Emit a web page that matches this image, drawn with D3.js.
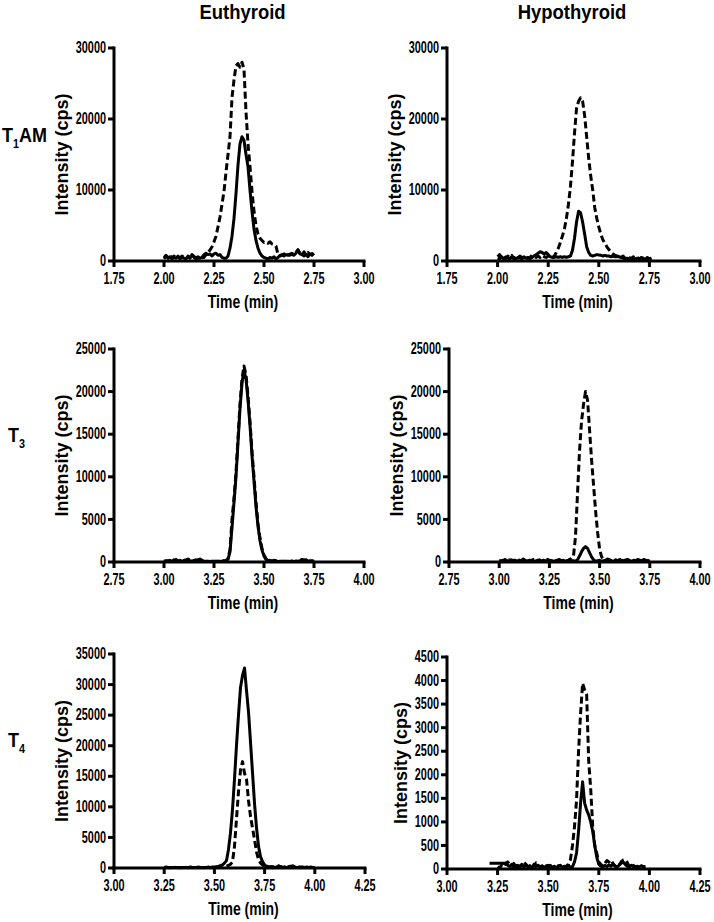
<!DOCTYPE html>
<html>
<head>
<meta charset="utf-8">
<script src="https://cdn.jsdelivr.net/npm/d3@7"></script>
<style>
  html, body { margin: 0; padding: 0; background: #fff; }
  svg text { font-family: "Liberation Sans", Arial, Helvetica, sans-serif; font-weight: bold; fill: #000; }
</style>
</head>
<body>
<svg id="chart" width="714" height="922"></svg>
<script>
// ---------------- DATA ----------------
const columnTitles = ["Euthyroid", "Hypothyroid"];
const rowLabels = [["T", "1", "AM"], ["T", "3", ""], ["T", "4", ""]];
const xAxisTitle = "Time (min)";
const yAxisTitle = "Intensity (cps)";

// x tick values per row
const xTicksRow1 = [1.75, 2.00, 2.25, 2.50, 2.75, 3.00];
const xTicksRow2 = [2.75, 3.00, 3.25, 3.50, 3.75, 4.00];
const xTicksRow3 = [3.00, 3.25, 3.50, 3.75, 4.00, 4.25];
// y tick values per panel
const yTicksT1AM = [0, 10000, 20000, 30000];
const yTicksT3 = [0, 5000, 10000, 15000, 20000, 25000];
const yTicksT4eu = [0, 5000, 10000, 15000, 20000, 25000, 30000, 35000];
const yTicksT4hy = [0, 500, 1000, 1500, 2000, 2500, 3000, 3500, 4000, 4500];

// ---- Euthyroid T1AM ----
const timeEuT1AM = [2.00,2.01,2.02,2.03,2.04,2.05,2.06,2.07,2.08,2.09,2.10,2.11,2.12,2.13,2.14,2.15,2.16,2.17,2.18,2.19,2.20,2.21,2.22,2.23,2.24,2.25,2.26,2.27,2.28,2.29,2.30,2.31,2.32,2.33,2.34,2.35,2.36,2.37,2.38,2.39,2.40,2.41,2.42,2.43,2.44,2.45,2.46,2.47,2.48,2.49,2.50,2.51,2.52,2.53,2.54,2.55,2.56,2.57,2.58,2.59,2.60,2.61,2.62,2.63,2.64,2.65,2.66,2.67,2.68,2.69,2.70,2.71,2.72,2.73,2.74,2.75];
const solidEuT1AM = [300,700,400,600,300,500,400,700,300,500, 400,300,600,400,900,500,300,600,400,500, 900,1100,900,1000,700,1000,1100,800,900,500, 400,400,700,1800,3500,6000,9500,13500,16500,17500, 17000,15000,13300,10000,7000,4500,2900,1800,1100,700, 500,400,300,500,400,600,300,500,800,900, 700,900,800,1000,900,800,1100,1500,1000,900, 700,900,600,1000,800,1100];
const dashEuT1AM = [500,800,500,900,400,700,500,600,400,700, 500,300,700,500,1000,600,500,400,600,500, 500,900,1200,1550,2000,2700,3500,4800,6200,8000, 9800,12500,15000,17500,23000,25500,27500,27800,27300,28000, 27000,21000,16500,13300,9800,7000,5000,3800,3200,2900, 2600,2700,2500,2700,2400,2300,2100,900,700,800, 1000,700,900,800,1100,900,1200,1600,1100,900, 1300,800,1200,900,1000,1300];

// ---- Hypothyroid T1AM ----
const timeHyT1AM = [2.00,2.01,2.02,2.03,2.04,2.05,2.06,2.07,2.08,2.09,2.10,2.11,2.12,2.13,2.14,2.15,2.16,2.17,2.18,2.19,2.20,2.21,2.22,2.23,2.24,2.25,2.26,2.27,2.28,2.29,2.30,2.31,2.32,2.33,2.34,2.35,2.36,2.37,2.38,2.39,2.40,2.41,2.42,2.43,2.44,2.45,2.46,2.47,2.48,2.49,2.50,2.51,2.52,2.53,2.54,2.55,2.56,2.57,2.58,2.59,2.60,2.61,2.62,2.63,2.64,2.65,2.66,2.67,2.68,2.69,2.70,2.71,2.72,2.73,2.74,2.75,2.76];
const solidHyT1AM = [400,300,600,300,500,400,300,600,400,300, 500,400,300,600,400,500,300,500,700,900, 1100,1300,1200,1000,1200,900,600,500,500,600, 500,600,500,600,500,600,700,1500,3200,5500, 7000,6800,5500,3800,2000,1200,800,700,800,900, 850,800,700,800,700,700,600,700,600,700, 600,500,400,300,400,300,400,300,300,400, 300,400,300,300,400,300,400];
const dashHyT1AM = [600,900,500,800,400,700,500,800,300,600, 400,700,500,300,600,400,500,800,600,500, 700,500,800,600,500,700,400,500,700,1200, 1800,2600,3500,4500,6000,8000,10500,14000,18000,21500, 22500,23000,22500,20500,17500,14500,12000,10000,7500,6000, 4800,3800,3000,2500,2000,1600,1300,1000,800,600, 800,500,700,400,600,500,300,600,400,500, 300,500,400,300,500,300,400];

// ---- Euthyroid T3 ----
const timeEuT3 = [3.00,3.01,3.02,3.03,3.04,3.05,3.06,3.07,3.08,3.09,3.10,3.11,3.12,3.13,3.14,3.15,3.16,3.17,3.18,3.19,3.20,3.21,3.22,3.23,3.24,3.25,3.26,3.27,3.28,3.29,3.30,3.31,3.32,3.33,3.34,3.35,3.36,3.37,3.38,3.39,3.40,3.41,3.42,3.43,3.44,3.45,3.46,3.47,3.48,3.49,3.50,3.51,3.52,3.53,3.54,3.55,3.56,3.57,3.58,3.59,3.60,3.61,3.62,3.63,3.64,3.65,3.66,3.67,3.68,3.69,3.70,3.71,3.72,3.73,3.74,3.75];
const solidEuT3 = [100,150,100,200,100,250,150,100,200,100, 150,250,300,150,100,200,150,250,350,200, 100,50,100,50,100,50,100,50,100,100, 150,100,300,1200,4000,7000,10000,14000,18000,21000, 22500,21500,19000,16000,12500,9500,6500,4200,2500,1400, 700,300,150,200,100,150,100,50,100,50, 100,50,100,50,100,50,100,100,150,250, 200,250,100,150,100,50];
const dashEuT3 = [50,100,150,100,200,150,300,100,150,100, 200,150,350,200,150,100,250,200,300,150, 50,100,50,100,50,100,50,100,50,150, 100,200,400,1500,5000,7500,10500,14500,18500,21500, 23000,22000,19500,16500,13000,10000,7000,4500,2800,1600, 800,400,200,150,100,200,150,100,50,100, 50,100,50,150,100,50,100,150,200,300, 250,200,150,100,150,100];

// ---- Hypothyroid T3 ----
const timeHyT3 = timeEuT3.slice();
const solidHyT3 = [100,150,100,200,150,100,250,150,200,100, 200,150,300,200,100,150,200,150,100,200, 150,100,200,150,100,200,150,100,150,200, 100,150,200,100,150,200,100,150,100,250, 700,1200,1600,1800,1600,1100,600,250,100,150, 200,100,150,200,100,250,150,100,200,150, 100,200,150,100,250,150,100,200,150,100, 200,150,250,100,150,100];
const dashHyT3 = [150,100,200,300,150,250,100,200,150,300, 200,150,350,250,100,200,150,300,200,150, 250,100,200,150,300,200,100,250,150,200, 300,150,250,200,100,300,400,700,3000,8000, 13000,16500,18500,20000,19000,15500,12000,9000,6000,3500, 1500,600,300,200,350,150,300,200,250,150, 300,200,150,250,300,150,200,250,100,300, 200,150,300,200,150,100];

// ---- Euthyroid T4 ----
const timeEuT4 = [3.25,3.26,3.27,3.28,3.29,3.30,3.31,3.32,3.33,3.34,3.35,3.36,3.37,3.38,3.39,3.40,3.41,3.42,3.43,3.44,3.45,3.46,3.47,3.48,3.49,3.50,3.51,3.52,3.53,3.54,3.55,3.56,3.57,3.58,3.59,3.60,3.61,3.62,3.63,3.64,3.65,3.66,3.67,3.68,3.69,3.70,3.71,3.72,3.73,3.74,3.75,3.76,3.77,3.78,3.79,3.80,3.81,3.82,3.83,3.84,3.85,3.86,3.87,3.88,3.89,3.90,3.91,3.92,3.93,3.94,3.95,3.96,3.97,3.98,3.99,4.00];
const solidEuT4 = [100,100,100,100,100,100,100,100,100,100, 100,100,100,100,100,100,100,100,100,100, 100,100,100,100,150, 150,200,250,400,500,800,1200,3000,5700,9500, 14500,20000,25000,29500,31500,32700,29000,25500,20500,15500, 10500,6500,3500,1850,1000,500,300,200,150,200, 100,150,300,200,100,150,100,150,200,300, 150,100,100,150,100,100,150,100,100,100, 100];
const dashEuT4 = [100,150,100,50,100,150,100,100,50,100, 150,100,100,150,100,50,100,150,100,100, 50,100,150,100,100, 100,150,100,200,150,200,300,400,600,1000, 3500,8000,12500,16000,17400,15500,14500,11000,8400,6500, 4600,2600,1300,800,500,300,200,150,200,150, 100,200,350,200,100,150,100,200,300,350, 200,100,150,100,150,100,150,100,150,100, 100];

// ---- Hypothyroid T4 ----
const timeHyT4 = [3.21,3.22,3.23,3.24,3.25,3.26,3.27,3.28,3.29,3.30,3.31,3.32,3.33,3.34,3.35,3.36,3.37,3.38,3.39,3.40,3.41,3.42,3.43,3.44,3.45,3.46,3.47,3.48,3.49,3.50,3.51,3.52,3.53,3.54,3.55,3.56,3.57,3.58,3.59,3.60,3.61,3.62,3.63,3.64,3.65,3.66,3.67,3.68,3.69,3.70,3.71,3.72,3.73,3.74,3.75,3.76,3.77,3.78,3.79,3.80,3.81,3.82,3.83,3.84,3.85,3.86,3.87,3.88,3.89,3.90,3.91,3.92,3.93,3.94,3.95,3.96,3.97,3.98];
const solidHyT4 = [120,120,120,120,120,120,120,120,120,80, 50,100,30,80,20,60,100,40,90,30, 70,20,100,50,80,30,60,20,70,40, 80,30,60,20,50,80,30,60,40,80, 30,50,150,340,800,1400,1850,1400,1250,1150, 1000,800,500,250,100, 60,40,80,50,90,60,100,70,40,80,120,150,100,60,40,80,50,30,60,40,70,50,40];
const dashHyT4 = [null,null,null,null,50,20,80,40,120,150, 100,60,120,40,80,30,90,140,100,50, 80,30,60,130,100,40,70,20,50,80, 30,60,40,20,70,30,50,40,60,100, 200,500,900,1460,2500,3300,3940,3800,3700,2300, 1700,900,500,330,150, 100,60,120,180,150,190,120,60,40,80,150,190,200,140,60,40,80,50,30,60,40,50,50];

// ---------------- LAYOUT ----------------
const panels = [
  { times: timeEuT1AM, solid: solidEuT1AM, dash: dashEuT1AM, xTicks: xTicksRow1, yTicks: yTicksT1AM, box: [114, 364, 48, 261] },
  { times: timeHyT1AM, solid: solidHyT1AM, dash: dashHyT1AM, xTicks: xTicksRow1, yTicks: yTicksT1AM, box: [447, 700, 48, 261] },
  { times: timeEuT3, solid: solidEuT3, dash: dashEuT3, xTicks: xTicksRow2, yTicks: yTicksT3, box: [114, 364, 349, 562] },
  { times: timeHyT3, solid: solidHyT3, dash: dashHyT3, xTicks: xTicksRow2, yTicks: yTicksT3, box: [449, 700, 349, 562] },
  { times: timeEuT4, solid: solidEuT4, dash: dashEuT4, xTicks: xTicksRow3, yTicks: yTicksT4eu, box: [114, 365, 654, 868] },
  { times: timeHyT4, solid: solidHyT4, dash: dashHyT4, xTicks: xTicksRow3, yTicks: yTicksT4hy, box: [447, 700, 657, 869] }
];

const SX_TICK = 0.68, SX_TIME = 0.8, SX_TITLE = 0.9, SX_ROW = 0.9;
const svg = d3.select("#chart");

function squashTicks(g, sx) {
  g.selectAll(".tick text").each(function () {
    const t = d3.select(this);
    const x = +t.attr("x") || 0, y = +t.attr("y") || 0;
    t.attr("x", 0).attr("y", 0).attr("transform", `translate(${x},${y}) scale(${sx},1)`);
  });
}

panels.forEach(p => {
  const [x0, x1, y0, y1] = p.box;
  const xs = d3.scaleLinear().domain([p.xTicks[0], p.xTicks[p.xTicks.length - 1]]).range([x0, x1]);
  const ys = d3.scaleLinear().domain([0, p.yTicks[p.yTicks.length - 1]]).range([y1, y0]);
  const g = svg.append("g");

  const mk = vals => d3.line()
    .defined((d, i) => vals[i] != null)
    .x((d, i) => xs(p.times[i]))
    .y((d, i) => ys(vals[i]))(p.times);

  g.append("path").attr("d", mk(p.solid)).attr("fill", "none").attr("stroke", "#000")
    .attr("stroke-width", 3).attr("stroke-linejoin", "round");
  g.append("path").attr("d", mk(p.dash)).attr("fill", "none").attr("stroke", "#000")
    .attr("stroke-width", 3).attr("stroke-dasharray", "7,3.5").attr("stroke-linejoin", "round");

  // x axis
  const gx = g.append("g").attr("transform", `translate(0,${y1})`)
    .call(d3.axisBottom(xs).tickValues(p.xTicks).tickFormat(d3.format(".2f"))
      .tickSize(6).tickPadding(6).tickSizeOuter(0).offset(0));
  // y axis
  const gy = g.append("g").attr("transform", `translate(${x0},0)`)
    .call(d3.axisLeft(ys).tickValues(p.yTicks).tickFormat(d3.format("d"))
      .tickSize(6).tickPadding(2).tickSizeOuter(0).offset(0));

  [gx, gy].forEach(a => {
    a.select(".domain").attr("stroke-width", 3).attr("stroke-linecap", "square");
    a.selectAll(".tick line").attr("stroke-width", 3).attr("stroke-linecap", "butt");
    a.selectAll(".tick text").style("font-size", "16px").style("font-family", null);
    a.attr("font-family", null).attr("font-size", null);
  });
  squashTicks(gx, SX_TICK);
  squashTicks(gy, SX_TICK);

  // widest y tick label
  let maxW = 0;
  gy.selectAll(".tick text").each(function () { maxW = Math.max(maxW, this.getComputedTextLength() * SX_TICK); });

  // x axis title
  g.append("text").attr("text-anchor", "middle")
    .attr("transform", `translate(${(x0 + x1) / 2 + 4},${y1 + 47}) scale(${SX_TIME},1)`)
    .style("font-size", "17.5px").text(xAxisTitle);
  // y axis title
  g.append("text").attr("text-anchor", "middle")
    .attr("transform", `translate(${x0 - 8 - maxW - 8},${(y0 + y1) / 2}) rotate(-90)`)
    .style("font-size", "18px").text(yAxisTitle);
});

// column titles
[242.5, 572].forEach((cx, i) => {
  svg.append("text").attr("text-anchor", "middle")
    .attr("transform", `translate(${cx},19) scale(${SX_TITLE},1)`)
    .style("font-size", "20.5px").text(columnTitles[i]);
});

// row labels
const rowPos = [[2, 142], [8, 442], [8, 747]];
rowLabels.forEach((lab, i) => {
  const t = svg.append("text")
    .attr("transform", `translate(${rowPos[i][0]},${rowPos[i][1]}) scale(${SX_ROW},1)`)
    .style("font-size", "20px");
  t.append("tspan").text(lab[0]);
  t.append("tspan").attr("dy", 6).style("font-size", "12px").text(lab[1]);
  if (lab[2]) t.append("tspan").attr("dy", -6).text(lab[2]);
});
</script>
</body>
</html>
